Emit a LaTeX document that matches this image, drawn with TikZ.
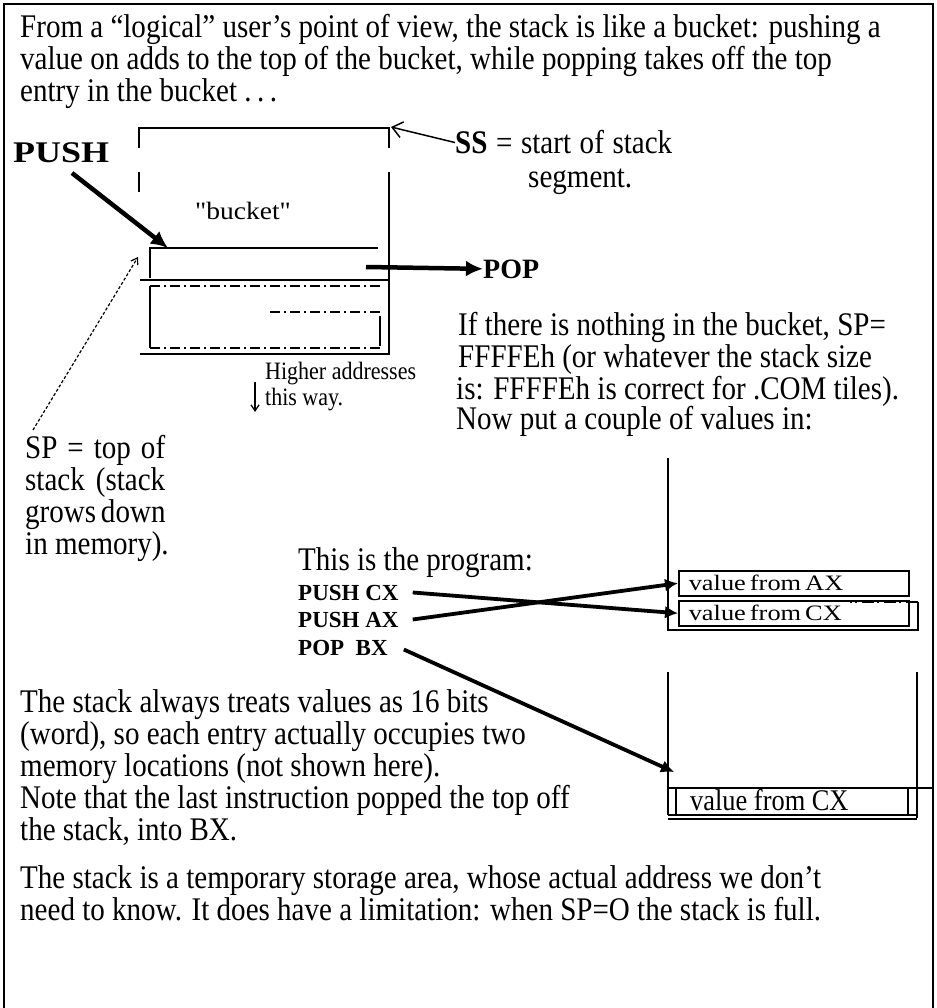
\documentclass[tikz,border=0pt]{standalone}
\usepackage{fontspec}
\setmainfont{Liberation Serif}[FakeStretch=0.88]
\newfontfamily\labfont{Liberation Serif}
\usetikzlibrary{arrows.meta}
\newcommand\bodyfont{\fontsize{33}{32}\selectfont}
\newcommand\bmpfont{\labfont\fontsize{22}{22}\selectfont}
\begin{document}
\begin{tikzpicture}[x=1pt,y=-1pt,
  txt/.style={anchor=base west, inner sep=0pt, font=\bodyfont},
  bmp/.style={anchor=base west, inner sep=0pt, font=\fontsize{25}{25}\selectfont},
  prog/.style={anchor=base west, inner sep=0pt, font=\labfont\fontsize{23}{23}\selectfont\bfseries},
  fat/.style={line width=4.5pt, -{Latex[length=17pt,width=16pt]}},
  fatprog/.style={line width=3.8pt, -{Latex[length=13pt,width=13pt]}},
  ln/.style={line width=1.6pt},
  dl/.style={line width=1.6pt, dash pattern=on 10pt off 4pt on 2pt off 4pt},
  frm/.style={line width=2.5pt},
  valbox/.style={draw, line width=1.5pt, anchor=north west, text width=210pt, inner xsep=10pt, inner ysep=0pt, minimum height=25pt, align=left}]
\useasboundingbox (0,0) rectangle (936,1008);
% frame
\draw[frm] (4,1008) -- (4,4) -- (933,4) -- (933,1008);
% top paragraph
\node[txt] (t1) at (20,38) {From a “logical” user’s point of view, the stack is like a bucket: pushing a};
\node[txt] (t2) at (20,70) {value on adds to the top of the bucket, while popping takes off the top};
\node[txt] (t3) at (20,102) {entry in the bucket .\,.\,.};
% bucket
\draw[ln] (139,148) -- (139,128) -- (389,128) -- (389,148);
\draw[ln] (139,172) -- (139,192);
\draw[ln] (389,172) -- (389,354);
\draw[ln] (140,354) -- (390,354);
\draw[ln] (150,278) -- (150,248) -- (378,248);
\draw[line width=2.4pt] (140,280) -- (390,280);
\draw[dl] (150,286) -- (380,286);
\draw[ln] (150,286) -- (150,348);
\draw[dl] (270,312) -- (380,312);
\draw[ln] (380,316) -- (380,346);
\draw[dl] (150,348) -- (380,348);
\node[anchor=base, inner sep=0pt, font=\labfont\fontsize{25}{25}\selectfont] (bk) at (243,220) {\scalebox{1.1}[1]{\char34 bucket\char34}};
% PUSH / POP / SS
\node[anchor=base west, inner sep=0pt, font=\labfont\fontsize{30}{30}\selectfont\bfseries] (push) at (13,163) {\scalebox{1.2}[1]{PUSH}};
\coordinate (pushs) at (72,173);
\coordinate (pusht) at (168,248);
\draw[fat] (pushs) -- (pusht);
\node[anchor=base west, inner sep=0pt, font=\labfont\fontsize{28}{28}\selectfont\bfseries] (pop) at (483,278) {POP};
\coordinate (pops) at (366,267);
\draw[fat] (pops) -- (pop.west);
\node[txt] (ss) at (455,154) {\makebox[217pt][s]{\textbf{SS} = start of stack}};
\node[txt] (seg) at (528,188) {segment.};
\coordinate (ssc) at (391,127);
\draw[line width=1.5pt, -{Straight Barb[length=10pt,width=16pt]}] (ss.west) -- (ssc);
% higher addresses
\node[bmp] (hi1) at (265,379) {Higher addresses};
\node[bmp] (hi2) at (265,405) {this way.};
\coordinate (dn1) at (255,382);
\coordinate (dn2) at (255,412);
\draw[line width=1.3pt, -{Straight Barb[length=6pt,width=8pt]}] (dn1) -- (dn2);
% SP
\node[txt] (sp1) at (25,458) {\makebox[140pt][s]{SP = top of}};
\node[txt] (sp2) at (25,490) {\makebox[140pt][s]{stack (stack}};
\node[txt] (sp3) at (25,522) {\makebox[140pt][s]{grows down}};
\node[txt] (sp4) at (25,554) {in memory).};
\coordinate (sps) at (33,430);
\coordinate (spt) at (138,257);
\draw[line width=1.2pt, dash pattern=on 3pt off 2pt, -{Straight Barb[length=6pt,width=8pt]}] (sps) -- (spt);
% right text
\node[txt] (r1) at (458,335) {If there is nothing in the bucket, SP=};
\node[txt] (r2) at (458,367) {FFFFEh (or whatever the stack size};
\node[txt] (r3) at (456,399) {is: FFFFEh is correct for .COM tiles).};
\node[txt] (r4) at (456,429) {Now put a couple of values in:};
% middle stack
\draw[ln] (668,458) -- (668,630) -- (918,630) -- (918,602);
\draw[ln, dash pattern=on 12pt off 5pt on 2pt off 3pt] (918,602) -- (850,602);
\node[valbox] (axbox) at (678,570) {\bmpfont\scalebox{1.2}[1]{value from AX}};
\node[valbox] (cxbox) at (678,600) {\bmpfont\scalebox{1.2}[1]{value from CX}};
% program
\node[txt] (progt) at (298,570) {This is the program:};
\node[prog] (pcx) at (298,600) {PUSH CX};
\node[prog] (pax) at (298,627) {PUSH AX};
\node[prog] (pbx) at (298,655) {POP\ \ BX};
\draw[fatprog] ([xshift=14pt]pcx.east) -- (cxbox.west);
\draw[fatprog] ([xshift=14pt]pax.east) -- (axbox.west);
\coordinate (popend) at (674,772);
\draw[fatprog] ([xshift=16pt,yshift=-2pt]pbx.east) -- (popend);
% lower stack
\draw[ln] (668,672) -- (668,815);
\draw[ln] (917,672) -- (917,818);
\draw[ln] (668,788) -- (933,788);
\draw[ln] (676,788) -- (676,815);
\draw[ln] (908,788) -- (908,815);
\draw[ln] (668,815) -- (917,815);
\draw[ln] (668,819) -- (917,819);
\node[anchor=base west, inner sep=0pt, font=\fontsize{30}{30}\selectfont] (vcx) at (690,810) {value from CX};
% bottom text
\node[txt] (b1) at (20,712) {The stack always treats values as 16 bits};
\node[txt] (b2) at (20,744) {(word), so each entry actually occupies two};
\node[txt] (b3) at (20,776) {memory locations (not shown here).};
\node[txt] (b4) at (20,808) {Note that the last instruction popped the top off};
\node[txt] (b5) at (20,840) {the stack, into BX.};
\node[txt] (b6) at (20,888) {The stack is a temporary storage area, whose actual address we don’t};
\node[txt] (b7) at (20,920) {need to know. It does have a limitation: when SP=O the stack is full.};
\end{tikzpicture}
\end{document}
